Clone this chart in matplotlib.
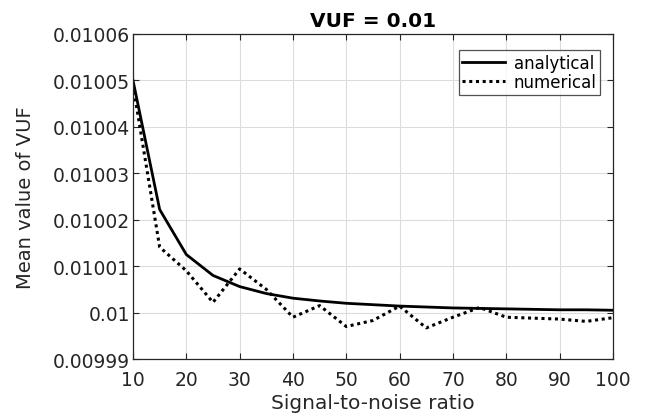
import numpy as np
import matplotlib
matplotlib.use("Agg")
import matplotlib.pyplot as plt
from matplotlib.ticker import FuncFormatter

plt.rcParams['font.family'] = ['DejaVu Sans']

snr = [10, 15, 20, 25, 30, 35, 40, 45, 50, 55, 60, 65, 70, 75, 80, 85, 90, 95, 100]
analytical = [0.0100500, 0.0100222, 0.0100125, 0.0100080, 0.0100056, 0.0100041,
              0.0100031, 0.0100025, 0.0100020, 0.0100017, 0.0100014, 0.0100012,
              0.0100010, 0.0100009, 0.0100008, 0.0100007, 0.0100006, 0.0100006,
              0.0100005]
numerical = [0.0100490, 0.0100141, 0.0100090, 0.0100022, 0.0100094, 0.0100050,
             0.0099990, 0.0100015, 0.0099970, 0.0099983, 0.0100014, 0.0099967,
             0.0099990, 0.0100011, 0.0099990, 0.0099988, 0.0099986, 0.0099981,
             0.0099989]

fig = plt.figure(figsize=(6.52, 4.14), dpi=100)
ax = fig.add_axes([0.204, 0.1304, 0.736, 0.7851])

ax.plot(snr, analytical, color='black', lw=2.0, ls='-', label='analytical')
ax.plot(snr, numerical, color='black', lw=2.2, ls=(0, (1, 1.2)), label='numerical')

ax.set_xlim(10, 100)
ax.set_ylim(0.00999, 0.01006)
ax.set_xticks(np.arange(10, 101, 10))
ax.set_yticks(np.linspace(0.00999, 0.01006, 8))
ax.yaxis.set_major_formatter(FuncFormatter(lambda v, p: '%g' % round(v, 7)))

ax.grid(True, color='#dcdcdc', lw=0.8)
ax.set_axisbelow(True)
ax.tick_params(direction='in', top=True, right=True, length=4, width=0.8,
               labelsize=13.5, colors='#262626', labelcolor='#262626')
ax.tick_params(axis='x', pad=8)
ax.tick_params(axis='y', pad=2)
for s in ax.spines.values():
    s.set_color('#262626')
    s.set_linewidth(0.9)

ax.set_title('VUF = 0.01', fontsize=14.5, fontweight='bold', pad=6)
ax.set_xlabel('Signal-to-noise ratio', fontsize=14.5, color='#262626', labelpad=3)
ax.set_ylabel('Mean value of VUF', fontsize=14, color='#262626', labelpad=13)

leg = ax.legend(loc='upper right', bbox_to_anchor=(0.98, 0.96), fontsize=12,
                frameon=True, fancybox=False, edgecolor='#262626',
                handlelength=2.6, handletextpad=0.5, borderpad=0.2,
                labelspacing=0.1, borderaxespad=0.2)
leg.get_frame().set_linewidth(0.9)

fig.savefig('out.png', dpi=100)
